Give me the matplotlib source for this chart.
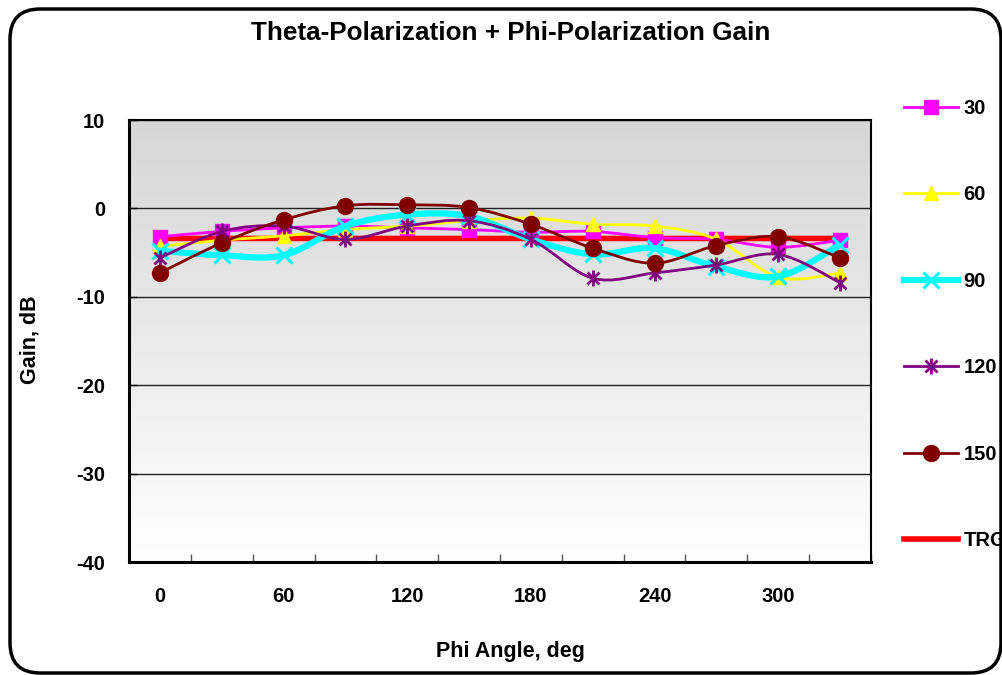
import numpy as np
import matplotlib
matplotlib.use("Agg")
import matplotlib.pyplot as plt
from matplotlib.path import Path
from matplotlib.patches import PathPatch, FancyBboxPatch
from matplotlib.lines import Line2D
from matplotlib.colors import LinearSegmentedColormap

plt.rcParams['font.family'] = ['Liberation Sans', 'DejaVu Sans']
plt.rcParams['axes.unicode_minus'] = False

# ---------------- data ----------------
phi = [0, 30, 60, 90, 120, 150, 180, 210, 240, 270, 300, 330]
tick_labels = ["0", "60", "120", "180", "240", "300"]
g30 = [-3.2, -2.6, -2.2, -2.0, -2.2, -2.4, -2.7, -2.6, -3.3, -3.5, -4.4, -3.6]
g60 = [-4.3, -3.6, -3.1, -2.4, -2.0, -1.4, -1.1, -1.8, -2.0, -3.5, -7.8, -7.3]
g90 = [-4.8, -5.3, -5.3, -2.0, -0.7, -0.9, -3.5, -5.2, -4.5, -6.6, -7.7, -4.1]
g120 = [-5.6, -2.6, -2.0, -3.5, -2.0, -1.4, -3.5, -7.9, -7.3, -6.4, -5.2, -8.4]
g150 = [-7.3, -3.9, -1.3, 0.3, 0.4, 0.1, -1.8, -4.5, -6.2, -4.2, -3.2, -5.6]
trg = [-3.4] * 12

series_names = ["30", "60", "90", "120", "150"]

# ---------------- figure ----------------
W, H = 1003, 675
fig = plt.figure(figsize=(W / 100, H / 100), dpi=100)
fig.patch.set_facecolor("white")

L, T, R, B = 129, 120, 871, 562
ax = fig.add_axes([L / W, (H - B) / H, (R - L) / W, (B - T) / H])
ax.set_facecolor("none")

# gradient background
grad = np.linspace(0, 1, 256).reshape(-1, 1)
cmap = LinearSegmentedColormap.from_list("g", ["#d6d6d6", "#ffffff"])
ax.imshow(grad, extent=[0, 1, 0, 1], transform=ax.transAxes, cmap=cmap,
          aspect="auto", zorder=0, origin="upper")

ax.set_xlim(-15, 345)
ax.set_ylim(-40, 10)


def smooth_path(x, y):
    x = np.asarray(x, float)
    y = np.asarray(y, float)
    n = len(x)
    verts = [(x[0], y[0])]
    codes = [Path.MOVETO]
    for i in range(n - 1):
        i0 = max(i - 1, 0)
        i3 = min(i + 2, n - 1)
        c1 = (x[i] + (x[i + 1] - x[i0]) / 6, y[i] + (y[i + 1] - y[i0]) / 6)
        c2 = (x[i + 1] - (x[i3] - x[i]) / 6, y[i + 1] - (y[i3] - y[i]) / 6)
        verts += [c1, c2, (x[i + 1], y[i + 1])]
        codes += [Path.CURVE4] * 3
    return Path(verts, codes)


asterisk = Path([(0, -1), (0, 1), (-0.75, -0.75), (0.75, 0.75), (-0.75, 0.75), (0.75, -0.75)],
                [Path.MOVETO, Path.LINETO, Path.MOVETO, Path.LINETO, Path.MOVETO, Path.LINETO])

styles = [
    dict(color="#ff00ff", lw=2.0, marker="s", ms=9.5, mew=1, mfc="#ff00ff"),
    dict(color="#ffff00", lw=2.0, marker="^", ms=10.5, mew=1, mfc="#ffff00"),
    dict(color="#00ffff", lw=4.5, marker="x", ms=11.5, mew=2.2, mfc="#00ffff"),
    dict(color="#800080", lw=2.0, marker=asterisk, ms=11.5, mew=2.0, mfc="#800080"),
    dict(color="#800000", lw=2.0, marker="o", ms=11.5, mew=1, mfc="#800000"),
]
data = [g30, g60, g90, g120, g150]

# target line
ax.add_patch(PathPatch(smooth_path(phi, trg), facecolor="none", edgecolor="#ff0000",
                       lw=4, zorder=2, capstyle="butt"))

for k, (vals, st) in enumerate(zip(data, styles)):
    z = 3 + k
    ax.add_patch(PathPatch(smooth_path(phi, vals), facecolor="none", edgecolor=st["color"],
                           lw=st["lw"], zorder=z))
    ax.plot(phi, vals, linestyle="none", marker=st["marker"], ms=st["ms"],
            mfc=st["mfc"], mec=st["color"], mew=st["mew"], zorder=z + 0.5)

# axes styling
ax.set_yticks([-40, -30, -20, -10, 0, 10])
ax.yaxis.grid(True, color="#222222", lw=1)
for gl in ax.get_ygridlines():
    gl.set_zorder(1)
ax.set_xticks(np.arange(-15, 346, 30), minor=True)
ax.set_xticks(phi[::2])
ax.set_xticklabels(tick_labels)
ax.tick_params(axis="x", which="major", length=0, pad=18)
ax.tick_params(axis="x", which="minor", direction="in", length=6, width=1, color="#555555")
ax.tick_params(axis="y", which="major", direction="in", length=6, width=1, pad=17)
for lab in ax.get_xticklabels() + ax.get_yticklabels():
    lab.set_fontsize(14.5)
    lab.set_fontweight("bold")
for s in ["top", "right"]:
    ax.spines[s].set_linewidth(1.5)
for s in ["left", "bottom"]:
    ax.spines[s].set_linewidth(2.2)

fig.text(511 / W, 1 - 33 / H, "Theta-Polarization + Phi-Polarization Gain",
         ha="center", va="center", fontsize=18.8, fontweight="bold")
fig.text(510 / W, 1 - 652 / H, "Phi Angle, deg", ha="center", va="center",
         fontsize=15.5, fontweight="bold")
fig.text(30 / W, 1 - 340 / H, "Gain, dB", ha="center", va="center",
         fontsize=15.5, fontweight="bold", rotation=90)

# legend
handles = []
for st, name in zip(styles, series_names):
    handles.append(Line2D([], [], color=st["color"], lw=st["lw"],
                          marker=st["marker"], ms=st["ms"], mfc=st["mfc"], mec=st["color"],
                          mew=st["mew"]))
handles.append(Line2D([], [], color="#ff0000", lw=4))
leg = fig.legend(handles, series_names + ["TRG"], loc="upper left",
                 bbox_to_anchor=(904 / W, 1 - 99 / H), frameon=False,
                 prop=dict(size=14.5, weight="bold"), labelspacing=3.35,
                 handlelength=2.7, handletextpad=0.25, borderaxespad=0, borderpad=0)

# rounded chart border
border = FancyBboxPatch((10 / W, 2 / H), 991 / W, 664 / H,
                        boxstyle="round,pad=0,rounding_size=0.03",
                        transform=fig.transFigure, facecolor="none",
                        edgecolor="black", linewidth=2.5, zorder=10,
                        mutation_aspect=W / H)
fig.patches.append(border)

fig.savefig("out.png", dpi=100)
